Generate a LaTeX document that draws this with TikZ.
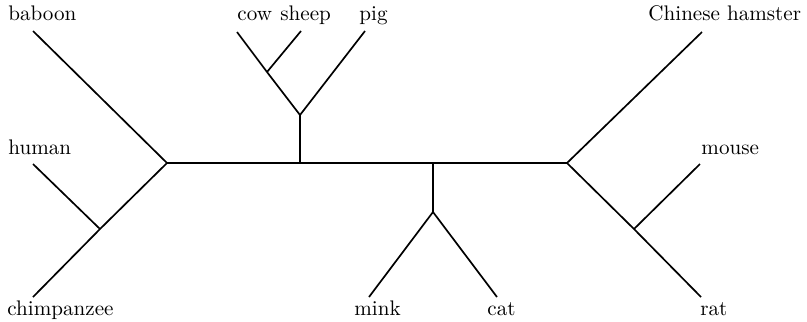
\documentclass[tikz,border=0pt]{standalone}
\begin{document}
\begin{tikzpicture}[x=0.474pt,y=-0.474pt,
  branch/.style={line width=0.8pt,line join=miter},
  leaf/.style={anchor=base west,inner sep=0pt,font=\fontsize{10}{12}\selectfont}]
\useasboundingbox (0,0) rectangle (807,321);
% labels
\node[leaf] (lbaboon) at (8,20) {baboon};
\node[leaf] (lhuman) at (8,154) {human};
\node[leaf] (lchimp) at (7,315) {chimpanzee};
\node[leaf] (lcow) at (237,20) {cow};
\node[leaf] (lsheep) at (280,20) {sheep};
\node[leaf] (lpig) at (359,20) {pig};
\node[leaf] (lhamster) at (648,20) {Chinese hamster};
\node[leaf] (lmouse) at (701,154) {mouse};
\node[leaf] (lmink) at (354,315) {mink};
\node[leaf] (lcat) at (487,315) {cat};
\node[leaf] (lrat) at (700,315) {rat};
% tips and junctions
\coordinate (baboon) at (33,31);
\coordinate (human) at (33,164);
\coordinate (chimp) at (33,297);
\coordinate (hc) at (100,229);
\coordinate (L) at (167,163);
\coordinate (cow) at (237,32);
\coordinate (sheep) at (301,31);
\coordinate (pig) at (365,31);
\coordinate (cs) at (267,72);
\coordinate (ung) at (300,115);
\coordinate (ungb) at (300,163);
\coordinate (carb) at (433,163);
\coordinate (car) at (433,212);
\coordinate (mink) at (369,297);
\coordinate (cat) at (497,297);
\coordinate (R) at (567,163);
\coordinate (hamster) at (702,32);
\coordinate (mr) at (634,229);
\coordinate (mouse) at (700,164);
\coordinate (rat) at (701,297);
% branches
\draw[branch] (baboon) -- (L);
\draw[branch] (chimp) -- (hc) -- (L);
\draw[branch] (human) -- (hc);
\draw[branch] (L) -- (R);
\draw[branch] (cow) -- (cs) -- (ung);
\draw[branch] (sheep) -- (cs);
\draw[branch] (pig) -- (ung) -- (ungb);
\draw[branch] (carb) -- (car);
\draw[branch] (mink) -- (car) -- (cat);
\draw[branch] (hamster) -- (R);
\draw[branch] (R) -- (mr) -- (rat);
\draw[branch] (mouse) -- (mr);
\end{tikzpicture}
\end{document}
